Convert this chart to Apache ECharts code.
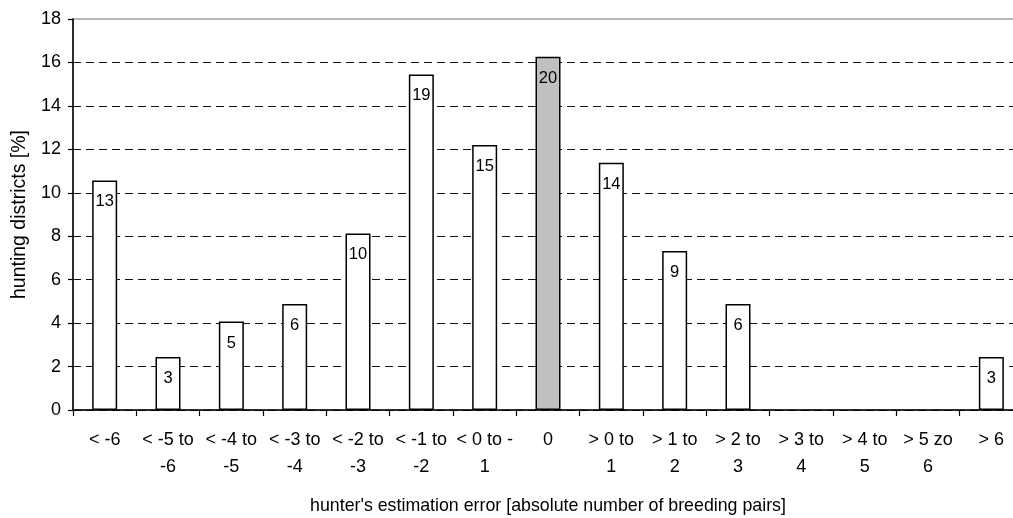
<!DOCTYPE html>
<html>
<head>
<meta charset="utf-8">
<script src="https://cdn.jsdelivr.net/npm/echarts@6/dist/echarts.min.js"></script>
<style>
html,body{margin:0;padding:0;background:#fff;overflow:hidden;}
#c{width:1013px;height:518px;}
</style>
</head>
<body>
<div id="c"></div>
<script>
var categories = ['< -6', '< -5 to\n-6', '< -4 to\n-5', '< -3 to\n-4', '< -2 to\n-3', '< -1 to\n-2', '< 0 to -\n1', '0', '> 0 to\n1', '> 1 to\n2', '> 2 to\n3', '> 3 to\n4', '> 4 to\n5', '> 5 zo\n6', '> 6'];
var percentValues = [10.57, 2.44, 4.07, 4.88, 8.13, 15.45, 12.20, 16.26, 11.38, 7.32, 4.88, '-', '-', '-', 2.44];
var districtCounts = [13, 3, 5, 6, 10, 19, 15, 20, 14, 9, 6, '', '', '', 3];
var highlightIndex = 7;
var yTicks = [0, 2, 4, 6, 8, 10, 12, 14, 16, 18];

var FONT = 'Arial, "Liberation Sans", sans-serif';
var chart = echarts.init(document.getElementById('c'), null, {renderer: 'canvas'});

var barData = percentValues.map(function (v, i) {
  return {
    value: v,
    itemStyle: {color: i === highlightIndex ? '#c0c0c0' : '#ffffff'}
  };
});

var splitColors = yTicks.map(function (t, i) {
  return i === yTicks.length - 1 ? 'rgba(0,0,0,0)' : '#111';
});

chart.setOption({
  animation: false,
  backgroundColor: '#fff',
  grid: {
    left: 73, right: -10, top: 19, bottom: 108,
    outerBoundsMode: 'none',
    containLabel: false,
    show: true, borderColor: '#a0a0a0', borderWidth: 1.5, backgroundColor: 'transparent'
  },
  xAxis: {
    type: 'category',
    data: categories,
    boundaryGap: true,
    name: "hunter's estimation error [absolute number of breeding pairs]",
    nameLocation: 'middle',
    nameGap: 87,
    nameTextStyle: {fontFamily: FONT, fontSize: 17.8, color: '#000'},
    axisLine: {lineStyle: {color: '#000', width: 1.5}},
    axisTick: {show: true, length: 6, interval: 0, lineStyle: {color: '#000', width: 1.2}},
    axisLabel: {interval: 0, margin: 16.5, fontFamily: FONT, fontSize: 18, color: '#000', lineHeight: 27, align: 'center'}
  },
  yAxis: {
    type: 'value',
    min: 0, max: 18, interval: 2,
    name: 'hunting districts [%]',
    nameLocation: 'middle',
    nameGap: 43,
    nameTextStyle: {fontFamily: FONT, fontSize: 19.5, color: '#000'},
    axisLine: {show: true, lineStyle: {color: '#000', width: 1.5}},
    axisTick: {show: true, length: 5, lineStyle: {color: '#000', width: 1.2}},
    axisLabel: {margin: 12, fontFamily: FONT, fontSize: 18, color: '#000'},
    splitLine: {show: true, lineStyle: {color: splitColors, type: [8, 5], width: 1}}
  },
  series: [{
    type: 'bar',
    data: barData,
    barWidth: 25,
    itemStyle: {borderColor: '#000', borderWidth: 1.5},
    label: {
      show: true,
      position: 'insideTop',
      distance: 13,
      fontFamily: FONT,
      fontSize: 16.5,
      color: '#000',
      formatter: function (p) { return districtCounts[p.dataIndex]; }
    }
  }]
});
</script>
</body>
</html>
